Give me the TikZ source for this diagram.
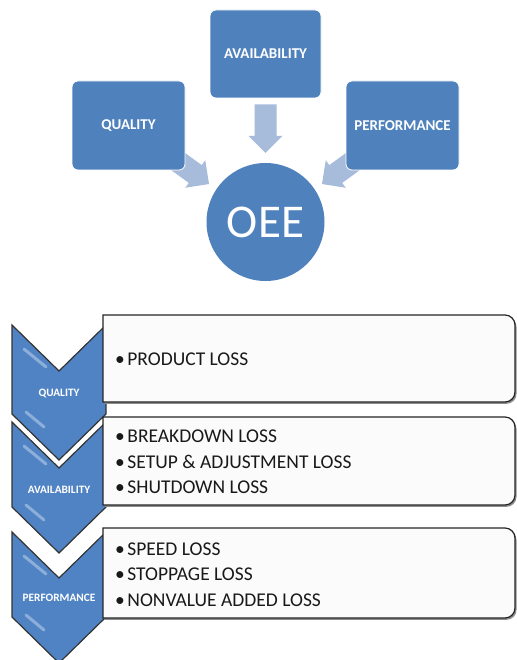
\documentclass[tikz,border=0pt]{standalone}
\usepackage{fontspec}
\setmainfont{Carlito}
\usetikzlibrary{calc,backgrounds}
\definecolor{oblue}{RGB}{79,129,189}
\definecolor{ablue}{RGB}{167,187,219}
\definecolor{cblue}{RGB}{80,131,196}
\definecolor{boxfill}{RGB}{251,251,251}
\newcommand\blockarrow[2]{%
  \path ($(#2)!17pt!(#1)$) coordinate (bh);
  \fill[ablue] ($(#1)!11pt!90:(#2)$) -- ($(bh)!11pt!-90:(#1)$) -- ($(bh)!17pt!-90:(#1)$)
    -- (#2) -- ($(bh)!17pt!90:(#1)$) -- ($(bh)!11pt!90:(#1)$) -- ($(#1)!11pt!-90:(#2)$) -- cycle;}
\newcommand\chevron[2]{%
  \filldraw[chevshape] (12,#1) -- (59,{#1+46}) -- (106,#1) -- (106,#2) -- (59,{#2+46}) -- (12,#2) -- cycle;
  \draw[gloss] (24,{#1+24}) -- (46,{#1+42});
  \draw[gloss] (26,{#2-2}) -- (44,{#2+13});}
\newcommand\lossbox[2]{%
  \fill[black!45] (104.5,{#1+1.8}) -- (506.5,{#1+1.8}) arc[start angle=90,end angle=0,radius=10pt]
    -- (516.5,{#2-8.2}) arc[start angle=0,end angle=-90,radius=10pt] -- (104.5,{#2+1.8}) -- cycle;
  \filldraw[boxshape] (103,#1) -- (505,#1) arc[start angle=90,end angle=0,radius=10pt]
    -- (515,{#2-10}) arc[start angle=0,end angle=-90,radius=10pt] -- (103,#2) -- cycle;}
\newcommand\bul{•\hspace{2.5pt}}
\tikzset{
  topbox/.style={rectangle, rounded corners=6pt, fill=oblue, draw=white, line width=0.8pt,
    text=white, font=\fontsize{15}{18}\selectfont\bfseries, inner sep=0pt},
  chevshape/.style={fill=cblue, draw=black!80, line width=1.2pt, line join=miter},
  gloss/.style={draw=white, opacity=0.35, line width=3pt, line cap=round},
  boxshape/.style={fill=boxfill, draw=black!85, line width=1.2pt},
  chevlabel/.style={text=white, font=\fontsize{11.3}{13}\selectfont\bfseries, inner sep=0pt},
  losstext/.style={anchor=west, align=left, text=black!90, inner sep=0pt,
    font=\fontsize{19.5}{25.5}\selectfont}
}
\begin{document}
\begin{tikzpicture}[x=1pt, y=-1pt]
\useasboundingbox (0,0) rectangle (516,660);
% top part
\node[topbox, minimum width=111pt, minimum height=88pt] (avail) at (265.5,54) {AVAILABILITY};
\node[topbox, minimum width=113pt, minimum height=89pt] (qual) at (128.5,125.5) {QUALITY};
\node[topbox, minimum width=113pt, minimum height=89pt] (perf) at (402.5,125.5) {PERFORMANCE};
\node[circle, fill=oblue, minimum size=118pt, inner sep=0pt, text=white,
      font=\fontsize{47}{50}\selectfont] (oee) at (265.5,222) {OEE};
\begin{scope}[on background layer]
  \fill[white] (0,0) rectangle (516,660);
  \coordinate (aS) at ([yshift=-6pt]avail.south);
  \coordinate (aT) at ([yshift=10pt]oee.north);
  \blockarrow{aS}{aT}
  \coordinate (qT) at (209,184);
  \blockarrow{qual.center}{qT}
  \coordinate (pT) at (322,184);
  \blockarrow{perf.center}{pT}
\end{scope}
% bottom part
\begin{scope}
\clip (0,0) rectangle (516,660);
\chevron{325}{414}
\chevron{422}{507}
\chevron{532}{617}
\end{scope}
\lossbox{315}{402}
\lossbox{417}{505}
\lossbox{528}{618}
\node[chevlabel] (cq) at (59,394) {QUALITY};
\node[chevlabel] (ca) at (59,490) {AVAILABILITY};
\node[chevlabel] (cp) at (59,598) {PERFORMANCE};
\node[losstext] (t1) at (115,359.5) {\bul PRODUCT LOSS};
\node[losstext] (t2) at (115,462) {\bul BREAKDOWN LOSS\\\bul SETUP \& ADJUSTMENT LOSS\\\bul SHUTDOWN LOSS};
\node[losstext] (t3) at (115,574.5) {\bul SPEED LOSS\\\bul STOPPAGE LOSS\\\bul NONVALUE ADDED LOSS};
\end{tikzpicture}
\end{document}
